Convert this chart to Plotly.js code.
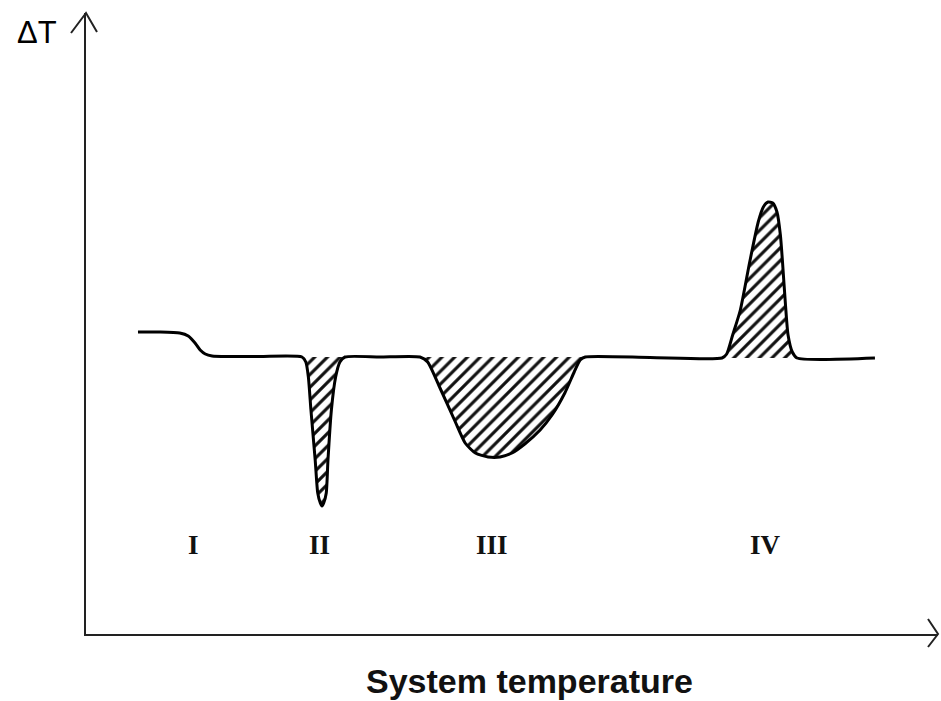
<!DOCTYPE html>
<html>
<head>
<meta charset="utf-8">
<script src="https://cdn.plot.ly/plotly-3.0.1.min.js"></script>
<style>html,body{margin:0;padding:0;background:#fff;}#chart{width:941px;height:701px;}</style>
</head>
<body>
<div id="chart"></div>
<script>
// System temperature (arbitrary units) and ΔT (arbitrary units)
const temp = [6.1, 8.7, 11.0, 12.0, 12.8, 13.4, 14.0, 14.8, 16.9, 20.4, 25.35,
  25.8, 26.1, 26.4, 26.9, 27.2, 27.5, 27.7, 27.9, 28.2, 28.4, 28.8, 29.3, 29.8, 30.4,
  34.5, 39.2, 40.1, 41.55, 43.3, 44.5, 45.7, 47.2, 48.6, 50.0, 51.5, 53.3, 54.7, 56.2, 57.3, 58.0, 58.6,
  66.2, 74.65, 75.2, 75.9, 76.8, 77.9, 78.9, 79.5, 80.05, 80.6, 81.1, 81.5, 81.75, 82.1, 82.4, 82.9, 83.45, 92.6];
const deltaT = [2.5, 2.5, 2.4, 2.1, 1.4, 0.7, 0.3, 0.1, 0.05, 0.05, 0,
  -0.5, -2.0, -5.3, -10.3, -13.6, -14.6, -14.9, -14.6, -13.6, -10.3, -5.3, -2.0, -0.5, 0,
  0, 0, -0.5, -3.1, -6.4, -8.6, -9.6, -10.0, -10.0, -9.6, -8.7, -7.3, -5.8, -3.6, -1.5, -0.3, 0,
  -0.05, -0.1, 0.3, 2.2, 4.7, 9.5, 13.5, 15.0, 15.5, 15.4, 14.5, 12.2, 9.5, 5.2, 2.2, 0.5, -0.1, -0.1];

// hatched peak regions (indices into the curve arrays)
const peakRanges = [[10, 24], [26, 41], [43, 58]];

// peak labels
const labels = ['I', 'II', 'III', 'IV'];
const labelTemp = [12.6, 27.4, 47.6, 79.7];
const labelDeltaT = -18.8;

const traces = [];
peakRanges.forEach(r => {
  traces.push({
    x: temp.slice(r[0], r[1] + 1),
    y: deltaT.slice(r[0], r[1] + 1),
    type: 'scatter', mode: 'lines',
    line: {width: 0, shape: 'spline', smoothing: 0.6},
    fill: 'toself',
    fillcolor: 'rgba(0,0,0,0)',
    fillpattern: {shape: '/', fgcolor: '#111', bgcolor: '#fff', size: 9, solidity: 0.35},
    hoverinfo: 'skip', showlegend: false
  });
});
traces.push({
  x: temp, y: deltaT, type: 'scatter', mode: 'lines',
  line: {color: '#000', width: 3, shape: 'spline', smoothing: 0.6},
  showlegend: false
});

const annotations = labels.map((t, i) => ({
  x: labelTemp[i], y: labelDeltaT, xref: 'x', yref: 'y', text: '<b>' + t + '</b>',
  showarrow: false, font: {family: 'Liberation Serif', size: 27, color: '#111'},
  xanchor: 'center', yanchor: 'middle'
}));
annotations.push({
  x: -0.058, y: 0.968, xref: 'paper', yref: 'paper', text: 'ΔT', showarrow: false,
  font: {family: 'Liberation Sans', size: 31, color: '#000'}, xanchor: 'center', yanchor: 'middle'
});
annotations.push({
  x: 0.521, y: -0.0757, xref: 'paper', yref: 'paper', text: '<b>System temperature</b>', showarrow: false,
  font: {family: 'Liberation Sans', size: 34, color: '#111'}, xanchor: 'center', yanchor: 'middle',
  borderpad: 0
});

const layout = {
  width: 941, height: 701,
  margin: {l: 86, r: 3, t: 13, b: 67},
  paper_bgcolor: '#fff', plot_bgcolor: '#fff',
  xaxis: {range: [0, 100], showgrid: false, zeroline: false, showticklabels: false, ticks: '',
    showline: true, linecolor: '#222', linewidth: 2, fixedrange: true},
  yaxis: {range: [-27.7, 34.4], showgrid: false, zeroline: false, showticklabels: false, ticks: '',
    showline: true, linecolor: '#222', linewidth: 2, fixedrange: true},
  annotations: annotations,
  shapes: [
    {type: 'path', xref: 'paper', yref: 'paper', xsizemode: 'pixel', ysizemode: 'pixel',
     xanchor: 0, yanchor: 1, path: 'M -15,-20 L 0,0 L 11,-19', line: {color: '#222', width: 2}},
    {type: 'path', xref: 'paper', yref: 'paper', xsizemode: 'pixel', ysizemode: 'pixel',
     xanchor: 1, yanchor: 0, path: 'M -10,15 L 0,0 L -10,-13', line: {color: '#222', width: 2}}
  ]
};

Plotly.newPlot('chart', traces, layout, {displayModeBar: false, staticPlot: true});
</script>
</body>
</html>
